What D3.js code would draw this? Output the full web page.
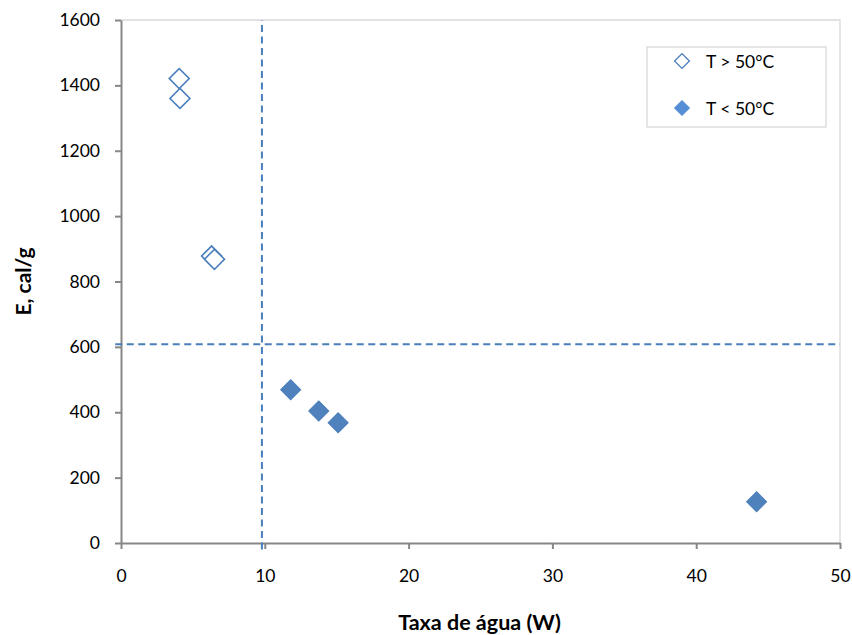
<!DOCTYPE html>
<html>
<head>
<meta charset="utf-8">
<script src="https://cdn.jsdelivr.net/npm/d3@7"></script>
<style>
  body { margin:0; background:#fff; }
  svg text { font-family: Lato, "Open Sans", sans-serif; fill:#000; }
</style>
</head>
<body>
<div id="canvas"></div>
<script>
// data
var hotW = [4.05, 4.1, 6.3, 6.5];
var hotE = [1421, 1360, 878, 868];
var coldW = [11.8, 13.75, 15.1, 44.2];
var coldE = [469, 404, 368, 126];
var xTicks = [0, 10, 20, 30, 40, 50];
var yTicks = [0, 200, 400, 600, 800, 1000, 1200, 1400, 1600];
var legendLabels = ['T > 50°C', 'T < 50°C'];
// dashed limits
var hLine = [[-0.4, 608], [50, 608]];
var vLine = [[9.8, -20], [9.8, 1600]];

var outerWidth = 852, outerHeight = 635;
var m = {t:20, r:12, b:92, l:121};
var w = outerWidth - m.l - m.r,
    h = outerHeight - m.t - m.b;

var svg = d3.select('#canvas')
    .append('svg')
    .attr('width', outerWidth)
    .attr('height', outerHeight);

var plot = svg.append('g')
    .attr('transform', 'translate(' + m.l + ',' + m.t + ')');

var scaleX = d3.scaleLinear().domain([0, 50]).range([0, w]);
var scaleY = d3.scaleLinear().domain([0, 1600]).range([h, 0]);

// light frame on top and right
plot.append('path')
    .attr('d', 'M0,0H' + w + 'V' + h)
    .attr('fill', 'none')
    .attr('stroke', '#d9d9d9')
    .attr('stroke-width', 1.3);

// axes
var axisX = d3.axisBottom(scaleX).tickValues(xTicks).tickFormat(d3.format('d'))
    .tickSizeInner(6).tickSizeOuter(0).tickPadding(21);
var axisY = d3.axisLeft(scaleY).tickValues(yTicks).tickFormat(d3.format('d'))
    .tickSizeInner(6).tickSizeOuter(0).tickPadding(15);

var gx = plot.append('g').attr('class', 'axis axis-x')
    .attr('transform', 'translate(0,' + h + ')')
    .call(axisX);
var gy = plot.append('g').attr('class', 'axis axis-y').call(axisY);

[gx, gy].forEach(function(g){
  g.selectAll('path,line').attr('stroke', '#878787').attr('stroke-width', 2);
  g.selectAll('text').style('font-size', '17.5px').attr('fill', '#000');
});

// dashed reference lines
var line = d3.line()
    .x(function(d){ return scaleX(d[0]); })
    .y(function(d){ return scaleY(d[1]); });

[hLine, vLine].forEach(function(l){
  plot.append('path')
      .attr('d', line(l))
      .attr('fill', 'none')
      .attr('stroke', '#4a7ebb')
      .attr('stroke-width', 2)
      .attr('stroke-dasharray', '7,4.5');
});

var diamond = d3.symbol().type(d3.symbolSquare).size(200);

function marker(g, filled){
  g.append('path')
      .attr('d', diamond)
      .attr('transform', 'rotate(45)')
      .attr('fill', filled ? '#4f81bd' : '#fff')
      .attr('stroke', '#4a7ebb')
      .attr('stroke-width', filled ? 1 : 1.6);
}

hotW.forEach(function(x, i){
  var g = plot.append('g')
      .attr('transform', 'translate(' + scaleX(x) + ',' + scaleY(hotE[i]) + ')');
  marker(g, false);
});

coldW.forEach(function(x, i){
  var g = plot.append('g')
      .attr('transform', 'translate(' + scaleX(x) + ',' + scaleY(coldE[i]) + ')');
  marker(g, true);
});

// legend
var legend = svg.append('g').attr('transform', 'translate(647,47)');
legend.append('rect')
    .attr('width', 179).attr('height', 80)
    .attr('fill', '#fff')
    .attr('stroke', '#d9d9d9')
    .attr('stroke-width', 1.3);

legendLabels.forEach(function(t, i){
  var row = legend.append('g').attr('transform', 'translate(35,' + (14 + i*47) + ')');
  row.append('path')
      .attr('d', d3.symbol().type(d3.symbolSquare).size(110))
      .attr('transform', 'rotate(45)')
      .attr('fill', i == 0 ? '#fff' : '#558ed5')
      .attr('stroke', i == 0 ? '#4a7ebb' : '#558ed5')
      .attr('stroke-width', i == 0 ? 1.3 : 1);
  row.append('text')
      .attr('x', 24)
      .attr('y', 7)
      .style('font-size', '17.5px')
      .text(t);
});

// axis titles
svg.append('text')
    .attr('x', m.l + w/2 - 1)
    .attr('y', 630)
    .attr('text-anchor', 'middle')
    .style('font-size', '21.5px')
    .style('font-weight', 'bold')
    .text('Taxa de água (W)');

svg.append('text')
    .attr('transform', 'translate(31,' + (m.t + h/2) + ') rotate(-90)')
    .attr('text-anchor', 'middle')
    .style('font-size', '21px')
    .style('font-weight', 'bold')
    .text('E, cal/g');
</script>
</body>
</html>
